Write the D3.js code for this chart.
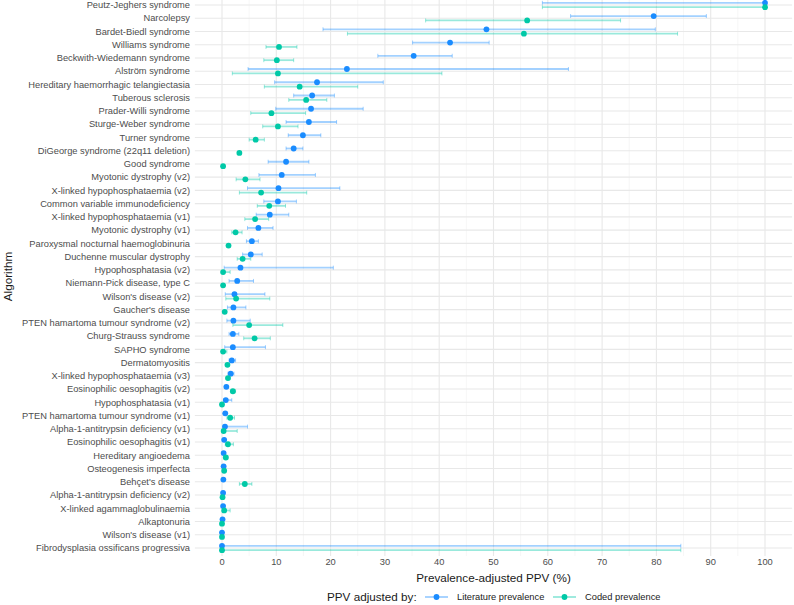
<!DOCTYPE html>
<html>
<head>
<meta charset="utf-8">
<title>Prevalence-adjusted PPV</title>
<script src="https://cdn.jsdelivr.net/npm/d3@7"></script>
<style>
  body { margin: 0; background: #fff; }
  svg { display: block; font-family: "Liberation Sans", Arial, sans-serif; }
</style>
</head>
<body>
<div id="chart"></div>
<script>
var categories = ["Peutz-Jeghers syndrome", "Narcolepsy", "Bardet-Biedl syndrome", "Williams syndrome",
  "Beckwith-Wiedemann syndrome", "Alström syndrome", "Hereditary haemorrhagic telangiectasia",
  "Tuberous sclerosis", "Prader-Willi syndrome", "Sturge-Weber syndrome", "Turner syndrome",
  "DiGeorge syndrome (22q11 deletion)", "Good syndrome", "Myotonic dystrophy (v2)",
  "X-linked hypophosphataemia (v2)", "Common variable immunodeficiency", "X-linked hypophosphataemia (v1)",
  "Myotonic dystrophy (v1)", "Paroxysmal nocturnal haemoglobinuria", "Duchenne muscular dystrophy",
  "Hypophosphatasia (v2)", "Niemann-Pick disease, type C", "Wilson's disease (v2)", "Gaucher's disease",
  "PTEN hamartoma tumour syndrome (v2)", "Churg-Strauss syndrome", "SAPHO syndrome", "Dermatomyositis",
  "X-linked hypophosphataemia (v3)", "Eosinophilic oesophagitis (v2)", "Hypophosphatasia (v1)",
  "PTEN hamartoma tumour syndrome (v1)", "Alpha-1-antitrypsin deficiency (v1)",
  "Eosinophilic oesophagitis (v1)", "Hereditary angioedema", "Osteogenesis imperfecta", "Behçet's disease",
  "Alpha-1-antitrypsin deficiency (v2)", "X-linked agammaglobulinaemia", "Alkaptonuria",
  "Wilson's disease (v1)", "Fibrodysplasia ossificans progressiva"];

// literature prevalence
var litVal = [100, 79.5, 48.7, 42.0, 35.3, 23.0, 17.5, 16.6, 16.4, 16.0, 14.9, 13.2, 11.8, 11.0, 10.4, 10.3,
  8.8, 6.7, 5.5, 5.3, 3.4, 2.8, 2.3, 2.1, 2.1, 2.0, 2.0, 1.8, 1.6, 0.8, 0.7, 0.6, 0.55, 0.4, 0.3, 0.3,
  0.25, 0.2, 0.2, 0.1, 0.0, 0.0];
var litLo = [59.0, 64.2, 18.6, 35.1, 28.7, 4.8, 9.7, 13.2, 9.9, 11.8, 12.2, 11.8, 8.5, 6.8, 4.7, 7.7,
  6.3, 4.7, 4.5, 3.8, 0.4, 1.3, 0.6, 1.0, 0.9, 1.3, 0.5, 1.3, 1.1, 0.6, 0.3, 0.4, 0.2, 0.3, 0.2, 0.2,
  0.2, 0.1, 0.1, 0.0, 0.0, 0.0];
var litHi = [100, 89.2, 79.8, 49.2, 42.4, 63.8, 29.7, 20.7, 26.0, 21.1, 18.2, 14.9, 16.0, 17.2, 21.7, 13.7,
  12.3, 9.4, 6.7, 7.4, 20.5, 5.8, 7.9, 4.4, 5.2, 3.1, 8.0, 2.5, 2.2, 1.1, 1.8, 0.9, 4.7, 0.6, 0.5, 0.5,
  0.3, 0.3, 0.3, 0.2, 0.1, 84.5];

// coded prevalence
var codVal = [100, 56.2, 55.6, 10.5, 10.1, 10.3, 14.3, 15.5, 9.1, 10.3, 6.2, 3.2, 0.2, 4.3, 7.2, 8.7,
  6.1, 2.5, 1.2, 3.8, 0.2, 0.2, 2.6, 0.5, 5.0, 6.0, 0.2, 1.0, 1.1, 2.0, 0.0, 1.5, 0.3, 1.1, 0.7, 0.4,
  4.2, 0.1, 0.4, 0.0, 0.0, 0.0];
var codLo = [59.0, 37.5, 23.1, 8.1, 7.7, 1.9, 7.8, 12.3, 5.3, 7.5, 5.0, 2.9, 0.1, 2.6, 3.2, 6.5,
  4.2, 1.8, 1.0, 2.8, 0.0, 0.1, 0.7, 0.3, 2.0, 4.0, 0.0, 0.8, 0.8, 1.6, 0.0, 0.9, 0.1, 0.6, 0.4, 0.3,
  3.2, 0.0, 0.1, 0.0, 0.0, 0.0];
var codHi = [100, 73.4, 83.9, 13.8, 13.2, 40.5, 25.0, 19.3, 15.4, 14.0, 7.8, 3.5, 0.4, 7.0, 15.6, 11.7,
  8.6, 3.7, 1.5, 5.3, 1.5, 0.4, 8.8, 0.8, 11.2, 8.9, 0.9, 1.3, 1.5, 2.5, 0.2, 2.3, 2.8, 2.1, 1.1, 0.6,
  5.5, 0.2, 1.5, 0.1, 0.1, 84.5];

var xTicks = [0, 10, 20, 30, 40, 50, 60, 70, 80, 90, 100];
var seriesNames = ["Literature prevalence", "Coded prevalence"];
var colors = ["#1a8cff", "#00c9a7"];

var W = 794, H = 605;
var svg = d3.select("#chart").append("svg").attr("width", W).attr("height", H);

var x = d3.scaleLinear().domain([0, 100]).range([222, 765]);
var y = d3.scalePoint().domain(categories).range([5, 548]);
var panelL = x(-5), panelR = x(105), panelT = -3, panelB = 556;
var dodge = 2.2;
var small = 9.3, big = 11.7;

// grid
var grid = svg.append("g");
grid.selectAll(".minor").data(d3.range(5, 105, 10)).enter().append("line")
  .attr("x1", function(d) { return x(d); }).attr("x2", function(d) { return x(d); })
  .attr("y1", panelT).attr("y2", panelB)
  .attr("stroke", "#f0f0f0").attr("stroke-width", 0.6);
grid.selectAll(".major").data(xTicks).enter().append("line")
  .attr("x1", function(d) { return x(d); }).attr("x2", function(d) { return x(d); })
  .attr("y1", panelT).attr("y2", panelB)
  .attr("stroke", "#e8e8e8").attr("stroke-width", 1.1);
grid.selectAll(".hrow").data(categories).enter().append("line")
  .attr("x1", panelL).attr("x2", panelR)
  .attr("y1", function(d) { return y(d); }).attr("y2", function(d) { return y(d); })
  .attr("stroke", "#e8e8e8").attr("stroke-width", 1.1);

// series
var series = [
  { name: seriesNames[0], val: litVal, lo: litLo, hi: litHi, off: -dodge, color: colors[0] },
  { name: seriesNames[1], val: codVal, lo: codLo, hi: codHi, off: dodge, color: colors[1] }
];

series.forEach(function(s) {
  var rows = categories.map(function(c, i) {
    return { cat: c, v: s.val[i], lo: s.lo[i], hi: s.hi[i] };
  });
  var g = svg.append("g");
  var yy = function(d) { return y(d.cat) + s.off; };
  g.selectAll(".ci").data(rows).enter().append("line")
    .attr("x1", function(d) { return x(d.lo); }).attr("x2", function(d) { return x(d.hi); })
    .attr("y1", yy).attr("y2", yy)
    .attr("stroke", s.color).attr("stroke-opacity", 0.4).attr("stroke-width", 1.8);
  ["lo", "hi"].forEach(function(k) {
    g.selectAll(".cap-" + k).data(rows).enter().append("line")
      .attr("x1", function(d) { return x(d[k]); }).attr("x2", function(d) { return x(d[k]); })
      .attr("y1", function(d) { return yy(d) - 2; }).attr("y2", function(d) { return yy(d) + 2; })
      .attr("stroke", s.color).attr("stroke-opacity", 0.4).attr("stroke-width", 1);
  });
  g.selectAll("circle").data(rows).enter().append("circle")
    .attr("cx", function(d) { return x(d.v); }).attr("cy", yy)
    .attr("r", 2.9).attr("fill", s.color);
});

// axes text
svg.append("g").selectAll("text").data(categories).enter().append("text")
  .attr("x", 190).attr("y", function(d) { return y(d); }).attr("dy", "0.35em")
  .attr("text-anchor", "end").attr("font-size", small).attr("fill", "#4d4d4d")
  .text(function(d) { return d; });

svg.append("g").selectAll("text").data(xTicks).enter().append("text")
  .attr("x", function(d) { return x(d); }).attr("y", 562).attr("dy", "0.35em")
  .attr("text-anchor", "middle").attr("font-size", small).attr("fill", "#4d4d4d")
  .text(function(d) { return d; });

svg.append("text").attr("x", x(50)).attr("y", 578).attr("dy", "0.35em")
  .attr("text-anchor", "middle").attr("font-size", big).attr("fill", "#1a1a1a")
  .text("Prevalence-adjusted PPV (%)");

svg.append("text").attr("transform", "translate(8," + ((panelT + panelB) / 2) + ") rotate(-90)")
  .attr("dy", "0.35em").attr("text-anchor", "middle").attr("font-size", big).attr("fill", "#1a1a1a")
  .text("Algorithm");

// legend
var lg = svg.append("g").attr("transform", "translate(0,597)");
lg.append("text").attr("x", 327).attr("dy", "0.35em").attr("font-size", big).attr("fill", "#1a1a1a")
  .text("PPV adjusted by:");
var keyX = [425, 553];
series.forEach(function(s, i) {
  var k = lg.append("g").attr("transform", "translate(" + keyX[i] + ",0)");
  k.append("line").attr("x1", 0).attr("x2", 23).attr("stroke", s.color)
    .attr("stroke-opacity", 0.5).attr("stroke-width", 1.5);
  k.append("circle").attr("cx", 11.5).attr("r", 2.9).attr("fill", s.color);
  k.append("text").attr("x", 32).attr("dy", "0.35em").attr("font-size", small).attr("fill", "#1a1a1a")
    .text(s.name);
});
</script>
</body>
</html>
